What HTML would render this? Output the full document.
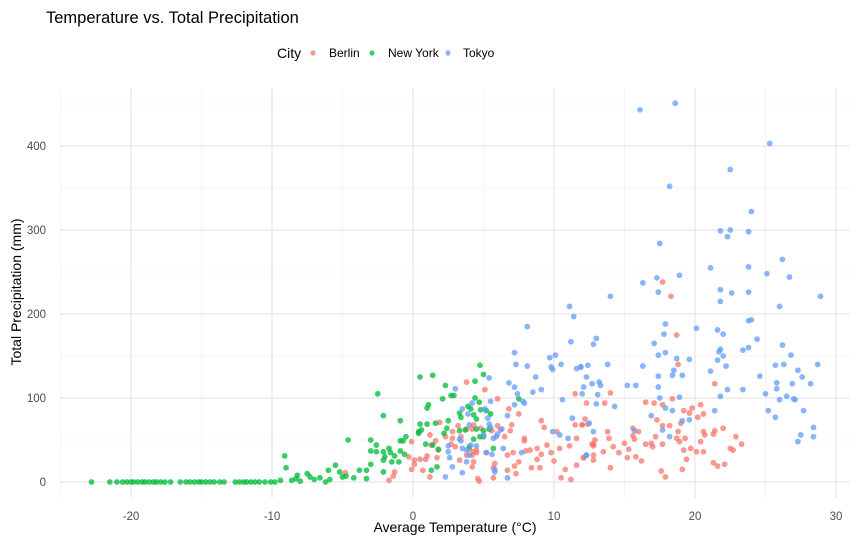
<!DOCTYPE html>
<html><head><meta charset="utf-8"><style>
html,body{margin:0;padding:0;background:#fff;}
svg{display:block;font-family:"Liberation Sans",sans-serif;}
</style></head><body>
<svg id="chart" width="864" height="545" viewBox="0 0 864 545">
<text x="46" y="23" font-size="16.5" fill="#000">Temperature vs. Total Precipitation</text>
<g>
<text x="277" y="58" font-size="14" fill="#000">City</text>
<g><circle cx="313" cy="53" r="2.6" fill="#F8766D" fill-opacity="0.75"/><text x="329" y="57" font-size="12" fill="#000">Berlin</text></g>
<g><circle cx="372" cy="53" r="2.6" fill="#00BA38" fill-opacity="0.75"/><text x="388" y="57" font-size="12" fill="#000">New York</text></g>
<g><circle cx="448" cy="53" r="2.6" fill="#619CFF" fill-opacity="0.75"/><text x="463" y="57" font-size="12" fill="#000">Tokyo</text></g>
</g>
<g id="grid"></g>
<g id="points"></g>
<g id="axes"></g>
<text x="455" y="532" font-size="14" text-anchor="middle" fill="#000">Average Temperature (°C)</text>
<text transform="translate(21,292) rotate(-90)" font-size="14" text-anchor="middle" fill="#000">Total Precipitation (mm)</text>
</svg>
<script>
const xTicks = [-20, -10, 0, 10, 20, 30];
const yTicks = [0, 100, 200, 300, 400];
const xMinor = [-25, -15, -5, 5, 15, 25];
const yMinor = [50, 150, 250, 350, 450];
const berlinTemp = [17.7,18.3,18.7,18.8,21.4,14.0,12.3,13.6,16.5,17.1,17.7,18.4,19.2,19.6,19.8,20.4,20.6,20.2,17.3,19.0,17.7,18.2,22.0,21.4,21.3,20.6,20.7,18.8,16.0,15.6,13.8,12.2,12.0,15.6,15.7,17.2,18.7,19.3,18.9,20.4,22.9,23.3,22.5,22.7,19.7,19.2,20.1,20.6,19.4,19.1,21.3,21.6,22.1,17.6,17.9,17.7,16.9,17.0,16.5,15.0,15.3,14.2,14.6,13.5,12.8,12.1,12.8,15.2,15.8,16.2,14.0,12.7,12.8,12.9,13.9,3.8,5.1,6.0,6.8,7.5,9.1,9.3,7.0,6.9,6.5,7.9,7.9,1.9,1.2,1.6,-0.1,2.8,3.2,3.8,4.2,4.3,4.8,6.0,5.6,6.2,2.3,2.8,3.4,3.0,2.7,1.8,1.3,4.0,4.3,4.5,3.8,4.2,4.5,5.2,-0.3,0.1,0.1,0.5,1.0,0.9,1.7,-0.1,0.7,1.2,-1.7,-1.4,-1.3,-4.8,3.3,4.3,4.2,4.6,4.7,5.8,5.7,5.7,6.7,7.1,7.5,7.2,6.7,7.3,8.0,8.3,8.8,9.1,8.8,9.5,8.4,9.0,10.4,10.5,10.8,11.1,11.6,11.6,11.5,12.0,12.4,11.5,12.1,12.8,10.0,10.2,9.8,11.2];
const berlinPrecip = [238,221,175,140,117,106,94,94,95,94,92,99,85,82,88,92,81,77,74,70,67,67,64,61,57,60,56,60,60,64,60,75,68,55,51,54,52,52,48,48,54,45,40,38,40,38,36,36,27,15,23,19,21,13,6,45,46,42,45,46,39,42,35,36,32,29,26,29,30,25,17,45,43,50,52,119,110,99,87,81,73,65,68,61,54,52,49,71,56,49,48,60,67,63,63,68,64,67,61,62,54,52,54,42,45,38,44,39,36,35,32,32,38,35,30,26,21,27,31,27,29,15,14,6,2,7,12,11,26,24,18,4,1,22,17,5,32,35,24,19,14,10,37,38,40,33,27,44,17,17,40,5,15,43,20,52,68,68,69,105,29,45,25,60,35,3];
const nyTemp = [4.75,5.0,4.4,0.5,1.4,2.3,2.7,2.9,2.1,-2.5,1.1,1.0,4.4,4.7,3.9,4.1,4.8,5.2,5.5,3.3,3.4,4.3,4.5,-2.1,-0.9,2.5,1.6,1.0,0.5,2.4,0.6,0.4,0.4,2.2,3.3,3.7,4.5,5.0,5.4,4.75,4.3,5.0,-3.0,-0.9,-0.7,-0.5,-2.6,-3.0,-2.6,-2.1,-1.7,-1.6,-0.9,-0.6,-1.3,-2.0,-2.1,-1.5,-1.0,-3.0,-3.8,-3.3,-2.1,-4.2,-3.3,-5.0,-4.75,0.9,1.4,1.8,1.3,1.7,4.0,5.7,7.5,-4.6,-9.1,-9.0,-8.2,-7.5,-6.6,-6.0,-5.5,-5.2,-6.2,-7.0,-8.6,-22.8,-21.5,-21.0,-20.6,-20.3,-20.0,-19.8,-19.5,-19.2,-19.0,-18.7,-18.4,-18.2,-17.9,-17.6,-17.2,-16.5,-16.1,-15.8,-15.5,-15.2,-15.0,-14.7,-14.4,-14.1,-13.7,-13.4,-12.6,-12.3,-12.0,-11.8,-11.5,-11.2,-10.9,-10.5,-10.1,-9.8,-9.4,-8.3,-8.0,-7.3,-5.9];
const nyPrecip = [139,128,120,125,127,115,103,103,99,105,92,88,100,95,90,87,86,85,81,82,77,80,75,79,73,73,70,69,69,64,62,60,58,58,61,62,63,61,63,54,51,54,50,49,49,54,44,37,36,36,40,35,37,33,31,30,26,24,24,21,14,14,12,5,4,6,7,45,44,39,14,18,42,40,99,50,31,17,8,10,5,14,20,12,0,3,2,0,0,0,0,0,0,0,0,0,0,0,0,0,0,0,0,0,0,0,0,0,0,0,0,0,0,0,0,0,0,0,0,0,0,0,0,0,2,4,1,6,3,5];
const tokyoTemp = [16.1,18.6,25.3,22.5,18.2,24.0,21.8,22.5,22.3,23.8,17.5,26.2,21.1,23.8,25.1,26.7,18.9,17.3,16.3,17.4,21.8,22.6,23.8,21.8,14.0,28.9,26.0,17.9,17.8,20.1,21.6,22.0,23.8,24.0,24.4,17.1,13.0,12.8,26.2,21.8,21.7,23.4,23.8,26.8,17.4,17.9,18.7,19.6,22.0,21.6,13.8,12.4,11.9,16.3,22.2,28.7,25.7,26.3,18.5,27.3,21.1,18.4,19.1,17.4,24.6,27.6,12.3,13.2,12.7,13.3,12.1,15.2,15.8,17.4,25.8,26.9,28.2,25.8,22.3,23.4,12.0,13.1,25.0,26.5,21.8,18.9,17.5,26.0,27.0,27.1,13.0,14.3,17.9,18.4,21.4,25.2,27.7,16.9,25.7,19.6,19.1,12.5,28.4,17.7,15.7,12.8,27.5,18.2,28.4,27.3,12.3,7.2,11.2,9.7,9.8,8.1,10.5,11.6,11.9,8.7,5.4,3.0,7.2,7.4,8.5,9.1,7.8,7.9,7.2,5.5,4.2,10.6,5.1,3.5,3.9,6.7,11.3,5.3,5.4,4.0,5.5,6.3,6.0,5.7,5.9,5.0,3.3,3.4,2.5,2.5,2.6,3.8,3.5,4.1,4.5,4.0,5.2,5.6,6.4,7.7,9.9,10.4,11.0,12.3,3.8,2.8,3.5,2.3,5.8,5.8,6.7,8.1,11.1,11.4,9.9,7.3,6.8,10.1];
const tokyoPrecip = [443,451,403,372,352,322,299,300,292,298,284,265,255,256,248,244,246,243,237,226,229,225,226,215,221,221,209,188,176,183,181,176,192,193,170,165,171,164,163,158,155,157,160,151,151,154,147,146,150,145,140,139,137,138,138,140,139,140,133,133,132,127,127,126,126,125,125,119,117,115,113,115,115,113,118,117,117,111,110,110,105,104,105,102,102,101,100,98,99,98,93,90,88,85,85,85,85,79,77,74,73,70,65,62,61,60,56,54,54,48,32,154,167,148,137,138,140,135,137,125,124,111,113,105,107,110,96,94,92,96,94,98,87,87,81,79,76,76,69,68,65,63,57,52,54,56,51,49,43,36,29,38,40,44,43,32,35,33,40,35,60,56,52,32,24,18,11,6,15,12,5,185,209,197,134,140,118,151];

const NS = "http://www.w3.org/2000/svg";
const L = 60, R = 850, T = 88, B = 498;
function xs(v){ return 413 + v * 14.1; }
function ys(v){ return 482 - v * 0.84; }
const grid = document.getElementById('grid');
const axes = document.getElementById('axes');
const pts = document.getElementById('points');
function line(x1,y1,x2,y2,w,c,parent){
  const l = document.createElementNS(NS,'line');
  l.setAttribute('x1',x1); l.setAttribute('y1',y1); l.setAttribute('x2',x2); l.setAttribute('y2',y2);
  l.setAttribute('stroke',c); l.setAttribute('stroke-width',w);
  parent.appendChild(l); return l;
}
xMinor.forEach(v=>{ const l=line(xs(v),T,xs(v),B,0.7,'#f0f0f0',grid);

 });
yMinor.forEach(v=>{ const l=line(L,ys(v),R,ys(v),0.7,'#f0f0f0',grid);

 });
xTicks.forEach(v=>{ const l=line(xs(v),T,xs(v),B,1.2,'#e6e6e6',grid);


  const t=document.createElementNS(NS,'text');
  t.setAttribute('x',xs(v)); t.setAttribute('y',520); t.setAttribute('font-size','11.5');
  t.setAttribute('text-anchor','middle'); t.setAttribute('fill','#4d4d4d'); t.textContent=v;
  
  
  axes.appendChild(t); });
yTicks.forEach(v=>{ const l=line(L,ys(v),R,ys(v),1.2,'#e6e6e6',grid);


  const t=document.createElementNS(NS,'text');
  t.setAttribute('x',46); t.setAttribute('y',ys(v)+4); t.setAttribute('font-size','11.5');
  t.setAttribute('text-anchor','end'); t.setAttribute('fill','#4d4d4d'); t.textContent=v;
  
  
  axes.appendChild(t); });
function series(tx, py, color, name){
  for(let i=0;i<tx.length && i<py.length;i++){
    const c=document.createElementNS(NS,'circle');
    c.setAttribute('cx',xs(tx[i])); c.setAttribute('cy',ys(py[i])); c.setAttribute('r',2.9);
    c.setAttribute('fill',color); c.setAttribute('fill-opacity','0.75');
    
    
    pts.appendChild(c);
  }
}
series(berlinTemp, berlinPrecip, '#F8766D', 'point-berlin');
series(nyTemp, nyPrecip, '#00BA38', 'point-new-york');
series(tokyoTemp, tokyoPrecip, '#619CFF', 'point-tokyo');
</script>
</body></html>
